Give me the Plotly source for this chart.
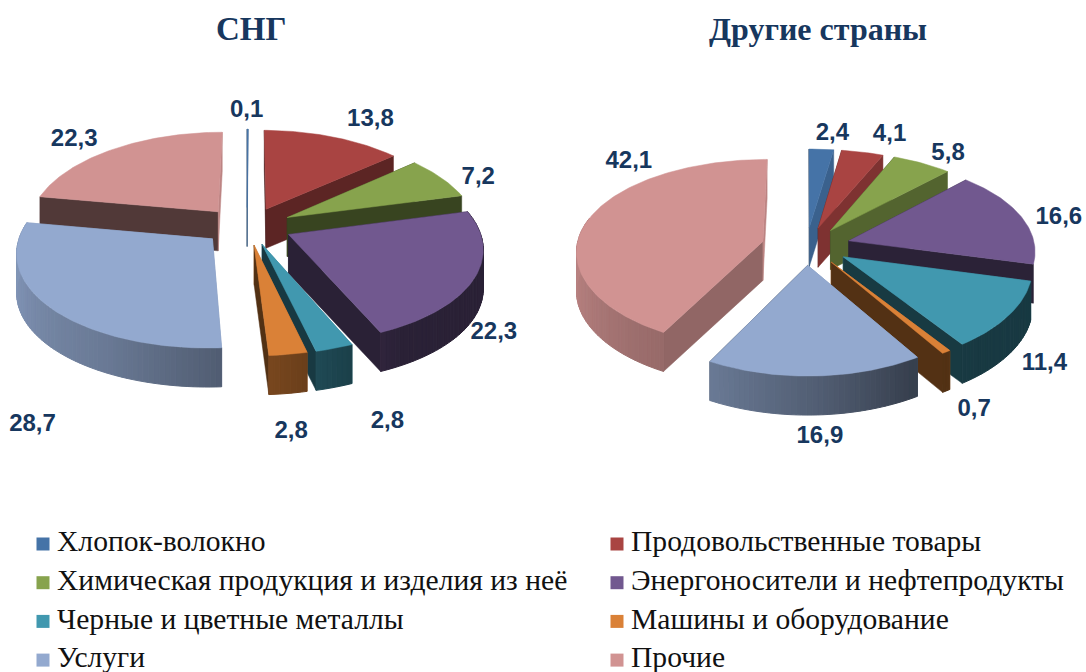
import numpy as np
import plotly.graph_objects as go

categories = ["Хлопок-волокно", "Продовольственные товары",
              "Химическая продукция и изделия из неё", "Энергоносители и нефтепродукты",
              "Черные и цветные металлы", "Машины и оборудование", "Услуги", "Прочие"]
cis_values = [0.1, 13.8, 7.2, 22.3, 2.8, 2.8, 28.7, 22.3]
other_values = [2.4, 4.1, 5.8, 16.6, 11.4, 0.7, 16.9, 42.1]
colors = ["#4573A7", "#A94442", "#87A34D", "#71588F", "#4198AF", "#DA8137", "#93A9CF", "#D19392"]
titles = ["СНГ", "Другие страны"]

# Label nudges away from the rim of each slice, in pixels
cis_label_shift = [(-1, -18), (38, -17), (37, 0), (20, 54), (53, 74), (3, 78), (-20, 116), (-40, -9)]
other_label_shift = [(11, -15), (27, -17), (26, -9), (38, 2), (36, 48), (28, 58), (5, 61), (40, -57)]

PULL_X, PULL_Y, DEPTH = 0.24, 0.2, 39
NAVY = "#17375E"


def project(cx, cy, U, V, z, rx):
    """Tilted-disc projection with a slight perspective."""
    return cx + U * (rx[0] + rx[1] * V), cy + 94.6 * V + 11.5 * V ** 2 + z


def shade(color, f):
    r, g, b = int(color[1:3], 16), int(color[3:5], 16), int(color[5:7], 16)
    return f"rgb({int(r * f)},{int(g * f)},{int(b * f)})"


def cut_shade(normal):
    return np.interp(normal % 360, [90, 98, 113, 118, 134, 140, 166, 190, 246, 360],
                     [.9, .85, .75, .7, .62, .55, .42, .39, .38, .38])


def rim_shade(theta):
    return np.interp(theta, [90, 150, 176, 208, 260, 300], [.38, .38, .55, .72, .88, .9])


fig = go.Figure()


def poly(xs, ys, fill, width=1.0):
    fig.add_trace(go.Scatter(x=xs, y=ys, mode="lines", fill="toself", fillcolor=fill,
                             line=dict(color=fill, width=width),
                             hoverinfo="skip", showlegend=False))


def draw_pie(values, cx, cy, shifts, rx):
    edges = np.cumsum([0] + values) / sum(values) * 360
    order = sorted(range(len(values)),
                   key=lambda i: -np.cos(np.radians((edges[i] + edges[i + 1]) / 2)))
    for i in order:
        a0, a1 = edges[i], edges[i + 1]
        mid = np.radians((a0 + a1) / 2)
        px, py = PULL_X * np.sin(mid), -PULL_Y * np.cos(mid)
        pt = lambda th, r=1.0, z=0.0: project(cx, cy, px + r * np.sin(np.radians(th)),
                                              py - r * np.cos(np.radians(th)), z, rx)
        col = colors[i]
        # the two radial cut faces
        for th, normal in ((a0, a0 - 90), (a1, a1 + 90)):
            x0, y0 = pt(th, 0)
            x1, y1 = pt(th)
            _, y0b = pt(th, 0, DEPTH)
            _, y1b = pt(th, 1, DEPTH)
            poly([x0, x1, x1, x0, x0], [y0, y1, y1b, y0b, y0], shade(col, cut_shade(normal)), 0.5)
        # the outer rim, in small shaded strips (slices facing away show none)
        lo, hi = max(a0, 75), min(a1, 285)
        if hi > lo and 80 < (a0 + a1) / 2 < 300:
            steps = np.linspace(lo, hi, max(2, int((hi - lo) / 1.5) + 2))
            for s0, s1 in zip(steps[:-1], steps[1:]):
                ths = np.linspace(s0, s1, 3)
                top = [pt(t) for t in ths]
                bot = [pt(t, 1, DEPTH) for t in ths[::-1]]
                pts = top + bot + [top[0]]
                poly([p[0] for p in pts], [p[1] for p in pts],
                     shade(col, rim_shade((s0 + s1) / 2)))
        # the top face
        ths = np.linspace(a0, a1, max(3, int(a1 - a0) + 2))
        arc = [pt(t) for t in ths]
        apex = pt(a0, 0)
        pts = [apex] + arc + [apex]
        poly([p[0] for p in pts], [p[1] for p in pts], col, 0.5)
    # value labels
    xs, ys, txt = [], [], []
    for i, v in enumerate(values):
        mid = np.radians((edges[i] + edges[i + 1]) / 2)
        x, y = project(cx, cy, (1 + PULL_X) * np.sin(mid), -(1 + PULL_Y) * np.cos(mid), 0, rx)
        xs.append(x + shifts[i][0])
        ys.append(y + shifts[i][1])
        txt.append(f"{v:.1f}".replace(".", ","))
    fig.add_trace(go.Scatter(x=xs, y=ys, mode="text", text=txt, textposition="middle center",
                             textfont=dict(family="Liberation Sans", size=24, color=NAVY,
                                           weight="bold"),
                             hoverinfo="skip", showlegend=False))


draw_pie(cis_values, 247, 226, cis_label_shift, (190, 26))
draw_pie(other_values, 806, 246, other_label_shift, (186, 18))

# legend, two columns
for i, name in enumerate(categories):
    col_x = 43 if i % 2 == 0 else 617
    row = i // 2
    fig.add_trace(go.Scatter(x=[col_x], y=[544 + 38.7 * row], mode="markers",
                             marker=dict(symbol="square", size=13, color=colors[i]),
                             hoverinfo="skip", showlegend=False))
    fig.add_trace(go.Scatter(x=[col_x + 14], y=[544 + 38.7 * row], mode="text", text=[name],
                             textposition="middle right",
                             textfont=dict(family="Liberation Serif", size=29.6, color="#111111"),
                             hoverinfo="skip", showlegend=False))

for title, x, size in zip(titles, (251, 818), (33, 32)):
    fig.add_annotation(x=x, y=29, xref="x", yref="y", text=f"<b>{title}</b>", showarrow=False,
                       font=dict(family="Liberation Serif", size=size, color=NAVY))

fig.update_layout(width=1086, height=672, margin=dict(l=0, r=0, t=0, b=0),
                  paper_bgcolor="white", plot_bgcolor="white", showlegend=False,
                  xaxis=dict(range=[0, 1086], visible=False, fixedrange=True),
                  yaxis=dict(range=[672, 0], visible=False, fixedrange=True))
fig.write_html("out.html", config={"displayModeBar": False},
               post_script="document.body.style.margin='0';")
